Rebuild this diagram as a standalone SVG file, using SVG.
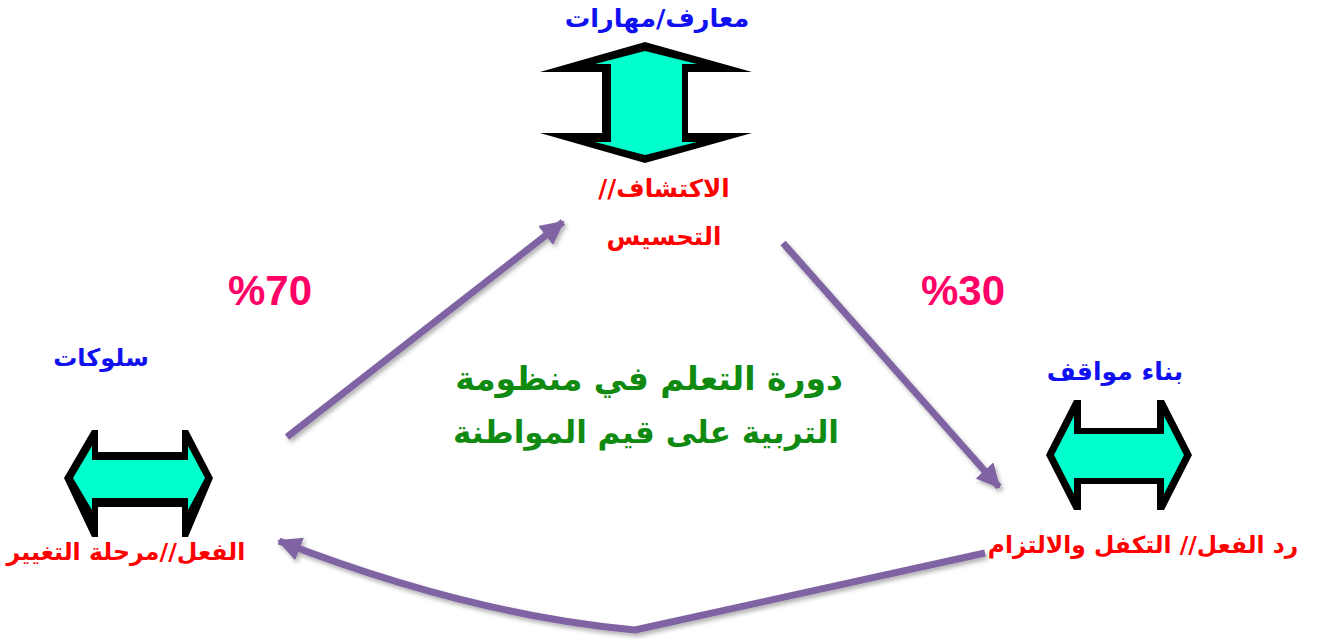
<svg xmlns="http://www.w3.org/2000/svg" width="1320" height="642" viewBox="0 0 1320 642">
<defs>
<style>
.t{font-family:"DejaVu Sans","Noto Sans",sans-serif;font-weight:bold;direction:rtl;text-anchor:middle}
.blue{fill:#1010F0}
.red{fill:#FF0000}
.pct{fill:#FF0066;font-size:42px;font-family:"Liberation Sans",Arial,sans-serif;font-weight:bold;text-anchor:middle}
.green{fill:#108A10}
.blk{fill:#000}
.teal{fill:#00FFCC}
.conn{fill:none;stroke:#8064A2;stroke-width:7;stroke-linejoin:round;filter:url(#sh)}
</style>
<marker id="ah" markerUnits="userSpaceOnUse" markerWidth="30" markerHeight="30" viewBox="0 0 30 30" refX="22" refY="15" orient="auto">
<path d="M0,3 L24,15 L0,27 Z" fill="#8064A2"/>
</marker>
<filter id="sh" x="-10%" y="-10%" width="120%" height="120%">
<feDropShadow dx="2" dy="3" stdDeviation="2" flood-color="#000" flood-opacity="0.3"/>
</filter>
</defs>
<g id="connectors">
<path class="conn" d="M287,437 L563,222" marker-end="url(#ah)"/>
<path class="conn" d="M783,243 L999,487" marker-end="url(#ah)"/>
<path class="conn" d="M985,553 L635,630 Q470,615 279,541" marker-end="url(#ah)"/>
</g>
<g id="node-top">
<polygon class="blk" points="645,42 752,72 688,72 688,133 752,133 645,163 540,133 602,133 602,72 540,72"/>
<polygon class="teal" points="645,51 697,64 682,64 682,142 697,142 645,155 595,142 611,142 611,64 595,64"/>
<text class="t blue" x="657" y="27" font-size="25.5">معارف/مهارات</text>
<text class="t red" x="664" y="197" font-size="24.5">الاكتشاف//</text>
<text class="t red" x="664" y="245" font-size="24.5">التحسيس</text>
</g>
<g id="node-left">
<polygon class="blk" points="64,478 92,430 98,430 98,452 182,452 182,430 188,430 213,478 188,537 182,537 182,507 98,507 98,537 92,537"/>
<polygon class="teal" points="73,478 92,446 92,460 188,460 188,446 205,478 188,510 188,498 92,498 92,510"/>
<text class="t blue" x="101" y="366" font-size="24">سلوكات</text>
<text class="t red" x="126" y="560" font-size="23.7">الفعل//مرحلة التغيير</text>
</g>
<g id="node-right">
<polygon class="blk" points="1046,455 1074,400 1081,400 1081,428 1157,428 1157,400 1164,400 1192,455 1164,510 1157,510 1157,484 1081,484 1081,510 1074,510"/>
<polygon class="teal" points="1054,455 1074,416 1074,434 1164,434 1164,416 1184,455 1164,494 1164,478 1074,478 1074,494"/>
<text class="t blue" x="1115" y="380" font-size="25">بناء مواقف</text>
<text class="t red" x="1143" y="553" font-size="23.4">رد الفعل// التكفل والالتزام</text>
</g>
<g id="labels">
<text class="pct" x="270" y="305">%70</text>
<text class="pct" x="963" y="305">%30</text>
<text class="t green" x="649" y="390" font-size="33">دورة التعلم في منظومة</text>
<text class="t green" x="646" y="443" font-size="31">التربية على قيم المواطنة</text>
</g>
</svg>
